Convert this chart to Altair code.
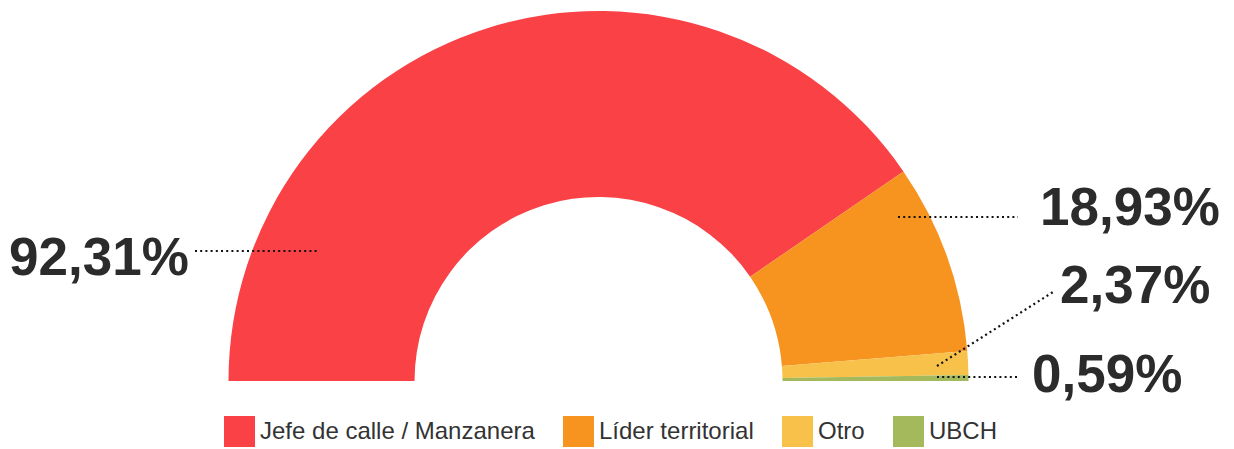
import math
import altair as alt
import pandas as pd

# ---- data ----
categories = ["Jefe de calle / Manzanera", "Líder territorial", "Otro", "UBCH"]
values = [92.31, 18.93, 2.37, 0.59]
colors = ["#F94146", "#F7941F", "#F8C149", "#A3B95B"]
order_idx = [0, 1, 2, 3]

labels = [f"{v:.2f}".replace(".", ",") + "%" for v in values]

# ---- annotation layout (chart coordinates) ----
label_x = [1, 1032, 1052, 1024]
label_y = [267, 217, 295, 384]
leader_x1 = [187, 890, 929, 929]
leader_y1 = [243, 209, 358, 369]
leader_x2 = [309, 1010, 1045, 1011]
leader_y2 = [243, 209, 284, 369]

CX, CY = 590.5, 373
R_OUT, R_IN = 370, 184

df = pd.DataFrame({"cat": categories, "value": values, "idx": order_idx})
ann = pd.DataFrame({
    "label": labels, "lx": label_x, "ly": label_y,
    "x1": leader_x1, "y1": leader_y1, "x2": leader_x2, "y2": leader_y2,
})

arcs = alt.Chart(df).mark_arc(radius=R_OUT, radius2=R_IN, stroke=None).encode(
    theta=alt.Theta("value:Q", stack=True,
                    scale=alt.Scale(range=[-math.pi / 2, math.pi / 2])),
    color=alt.Color("cat:N", sort=categories,
                    scale=alt.Scale(domain=categories, range=colors),
                    legend=alt.Legend(
                        title=None, orient="none", direction="horizontal",
                        legendX=216, legendY=408,
                        symbolType="square", symbolSize=961,
                        symbolStrokeWidth=0, symbolOpacity=1,
                        labelFont="Liberation Sans", labelFontSize=24,
                        labelColor="#333333", labelOffset=5,
                        labelBaseline="middle",
                        columnPadding=28, labelLimit=400,
                    )),
    order=alt.Order("idx:Q"),
    x=alt.value(CX),
    y=alt.value(CY),
)

leaders = alt.Chart(ann).mark_rule(
    color="#111111", strokeWidth=2.2, strokeDash=[2, 3.2], strokeCap="butt"
).encode(
    x=alt.X("x1:Q", scale=None),
    y=alt.Y("y1:Q", scale=None),
    x2="x2:Q",
    y2="y2:Q",
)

texts = alt.Chart(ann).mark_text(
    align="left", baseline="alphabetic", font="Liberation Sans",
    fontWeight="bold", fontSize=53, color="#2b2b2b",
).encode(
    x=alt.X("lx:Q", scale=None),
    y=alt.Y("ly:Q", scale=None),
    text="label:N",
)

chart = alt.layer(arcs, leaders, texts).properties(
    width=1218, height=441,
    autosize=alt.AutoSizeParams(type="none"),
    padding=0,
).configure_view(stroke=None)

chart.save("out.html", embed_options={"renderer": "svg", "actions": False})
